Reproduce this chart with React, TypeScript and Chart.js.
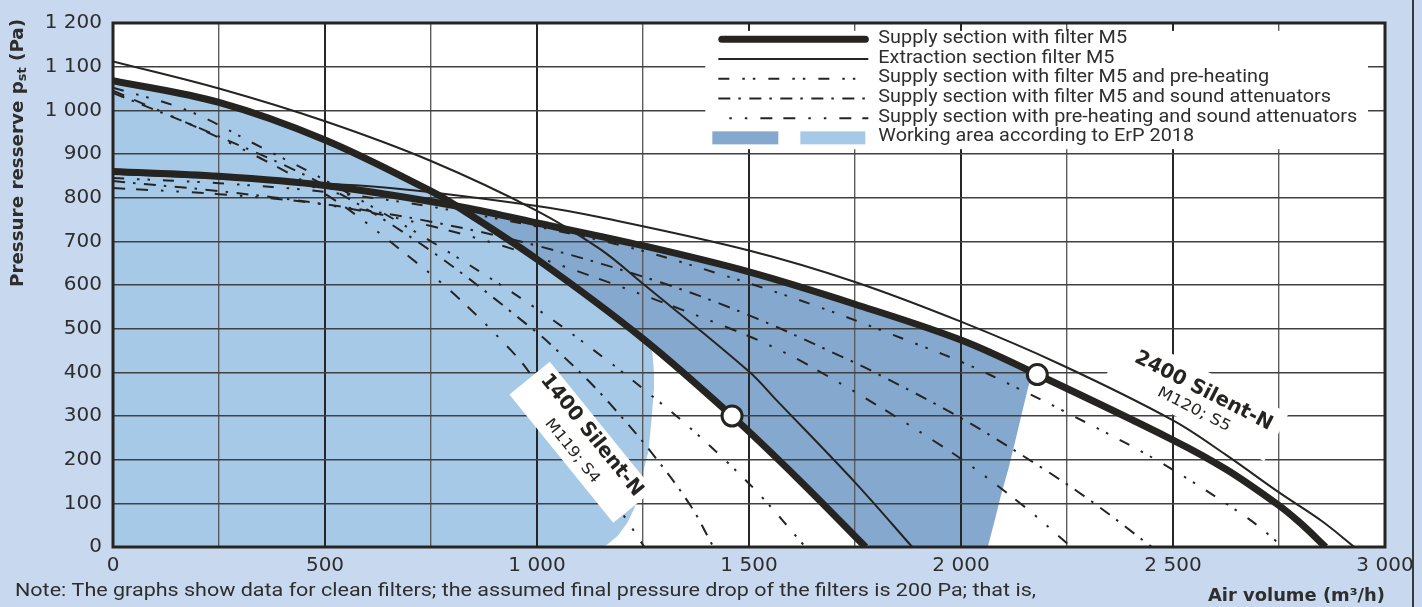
import React, { useEffect, useRef } from 'react';
import { Chart, registerables } from 'chart.js';

Chart.register(...registerables);

// ---------- axes ----------
const X_MIN = 0;
const X_MAX = 3000;
const X_GRID_STEP = 250;
const X_LABEL_STEP = 500;
const Y_MIN = 0;
const Y_MAX = 1200;
const Y_STEP = 100;

// ---------- 1400 Silent-N (M119; S4) : [air volume m3/h, pressure Pa] ----------
const supply1400 = [[0, 1068], [250, 1018], [500, 932], [750, 815], [810, 781], [1000, 659], [1250, 477], [1460, 300], [1620, 152], [1775, 0]];
const extraction1400 = [[0, 1112], [250, 1050], [500, 975], [750, 884], [1000, 770], [1149, 682], [1250, 603], [1500, 402], [1567, 334], [1750, 148], [1885, 0]];
const preheat1400 = [[0, 1052], [175, 1000], [350, 915], [500, 840], [750, 700], [1000, 545], [1169, 425], [1267, 349], [1342, 289], [1437, 205], [1527, 118], [1633, 0]];
const attenuator1400 = [[0, 1040], [250, 940], [500, 828], [750, 678], [1000, 491], [1067, 432], [1122, 380], [1173, 327], [1267, 220], [1362, 95], [1416, 0]];
const preheatAtt1400 = [[0, 1045], [200, 960], [378, 875], [530, 790], [685, 675], [807, 577], [941, 448], [988, 391], [1229, 36], [1253, 0]];

// ---------- 2400 Silent-N (M120; S5) ----------
const supply2400 = [[0, 860], [250, 849], [500, 828], [810, 781], [1000, 742], [1250, 690], [1500, 630], [1750, 556], [2000, 474], [2180, 395], [2500, 245], [2625, 178], [2750, 95], [2800, 55], [2860, 0]];
const extraction2400 = [[0, 855], [465, 834], [677, 820], [1000, 781], [1149, 755], [1500, 679], [1750, 607], [2000, 516], [2235, 418], [2500, 290], [2625, 211], [2750, 125], [2850, 60], [2928, 0]];
const preheat2400 = [[0, 845], [250, 833], [500, 813], [800, 771], [1185, 694], [1428, 626], [1664, 550], [1900, 463], [2015, 418], [2133, 364], [2243, 311], [2463, 198], [2676, 66], [2760, 0]];
const attenuator2400 = [[0, 838], [250, 815], [500, 785], [750, 745], [1000, 690], [1307, 601], [1519, 523], [1723, 434], [1794, 401], [1995, 298], [2188, 183], [2310, 103], [2450, 0]];
const preheatAtt2400 = [[0, 822], [250, 808], [500, 784], [750, 735], [1000, 664], [1464, 497], [1637, 418], [1960, 228], [2141, 99], [2260, 0]];

// rated working points (white circles)
const ratedPoints = [[1460, 300], [2180, 395]];

// right-hand limits of the ErP 2018 working areas
const area1400Edge = [[1258, 471], [1272, 448], [1276, 400], [1276, 365], [1270, 290], [1263, 220], [1251, 175], [1244, 130], [1230, 90], [1213, 55], [1190, 25], [1165, 5], [1150, 0]];
const area2400Edge = [[2170, 400], [2158, 364], [2141, 296], [2128, 243], [2112, 180], [2093, 114], [2078, 55], [2063, 0]];

// ---------- texts ----------
const legendLabels = [
  'Supply section with filter M5',
  'Extraction section filter M5',
  'Supply section with filter M5 and pre-heating',
  'Supply section with filter M5 and sound attenuators',
  'Supply section with pre-heating and sound attenuators',
  'Working area according to ErP 2018',
];
const unitNames = ['1400 Silent-N', '2400 Silent-N'];
const unitSubs = ['M119; S4', 'M120; S5'];
const yTitleMain = 'Pressure resserve p';
const yTitleSub = 'st';
const yTitleEnd = ' (Pa)';
const xTitle = 'Air volume (m³/h)';
const noteText = 'Note: The graphs show data for clean filters; the assumed final pressure drop of the filters is 200 Pa; that is,';

// ---------- styles ----------
const INK = '#262421';
const TEXT = '#2e2e2e';
const BG = '#c8d9ef';
const AREA_2400 = '#85a8cf';
const AREA_1400 = '#a7c9e8';
const GRID_MAJOR = '#262626';
const GRID_MINOR = '#5c5c5c';
const GRID_H = '#404040';
const DASH_PREHEAT = [11, 13, 2.5, 8, 2.5, 13];
const DASH_ATT = [12, 8, 2.5, 8.5];
const DASH_BOTH = [12, 11, 12, 13, 2.5, 13, 2.5, 13];
const TEXT_FAMILY = 'Roboto, "Open Sans", sans-serif';
const BOLD_FAMILY = '"DejaVu Sans", sans-serif';

// layout of annotations (data coordinates)
const legendBox = { x0: 1397, x1: 2960, y0: 911, y1: 1182 };
const unitBoxes = [
  { at: [1105, 240], angle: 51, w: 165, h: 52, along: 1, nameOff: -12, subOff: 13, nameW: 151, subW: 78, nameSize: 20, subSize: 15 },
  { at: [2555, 345], angle: 27, w: 180, h: 54, along: 4, nameOff: -8, subOff: 13, nameW: 152, subW: 80, nameSize: 20, subSize: 15 },
];

const fmt = (v: number) =>
  v >= 1000 ? `${Math.floor(v / 1000)} ${String(v % 1000).padStart(3, '0')}` : `${v}`;

const toPts = (a: number[][]) => a.map(([x, y]) => ({ x, y }));

const curve = (label: string, data: number[][], width: number, dash: number[], order: number) => ({
  label,
  data: toPts(data),
  borderColor: INK,
  backgroundColor: INK,
  borderWidth: width,
  borderDash: dash,
  borderCapStyle: 'butt',
  borderJoinStyle: 'round',
  pointRadius: 0,
  pointHoverRadius: 0,
  fill: false,
  tension: 0.35,
  order,
});

function fitText(ctx: CanvasRenderingContext2D, text: string, x: number, y: number, width: number, font: string, align: CanvasTextAlign = 'left') {
  ctx.font = font;
  const w = ctx.measureText(text).width || 1;
  ctx.save();
  ctx.translate(x, y);
  ctx.scale(width / w, 1);
  ctx.textAlign = align;
  ctx.fillText(text, 0, 0);
  ctx.restore();
}

const overlay = {
  id: 'overlay',
  beforeDraw(chart: any) {
    const { ctx, chartArea: a, scales } = chart;
    const xs = scales.x;
    const ys = scales.y;
    ctx.save();
    ctx.fillStyle = '#ffffff';
    ctx.fillRect(a.left, a.top, a.right - a.left, a.bottom - a.top);
    const poly = (arr: number[][], color: string) => {
      ctx.beginPath();
      arr.forEach(([vx, vy], i) => {
        const px = xs.getPixelForValue(vx);
        const py = ys.getPixelForValue(vy);
        if (i === 0) ctx.moveTo(px, py);
        else ctx.lineTo(px, py);
      });
      ctx.closePath();
      ctx.fillStyle = color;
      ctx.fill();
    };
    // 2400 working area: between the two supply curves, limited on the right
    const top2400 = supply2400.filter((p) => p[0] >= 810 && p[0] < 2165);
    const low1400 = supply1400.filter((p) => p[0] >= 810).slice().reverse();
    poly([...top2400, ...area2400Edge, ...low1400], AREA_2400);
    // 1400 working area: below the 1400 supply curve
    const top1400 = supply1400.filter((p) => p[0] <= 1250);
    poly([[0, 0], ...top1400, ...area1400Edge], AREA_1400);
    ctx.restore();
  },
  afterDraw(chart: any) {
    const { ctx, chartArea: a, scales } = chart;
    const xs = scales.x;
    const ys = scales.y;
    ctx.save();

    // unit labels
    unitBoxes.forEach((b, i) => {
      const cx = xs.getPixelForValue(b.at[0]);
      const cy = ys.getPixelForValue(b.at[1]);
      ctx.save();
      ctx.translate(cx, cy);
      ctx.rotate((b.angle * Math.PI) / 180);
      ctx.fillStyle = '#ffffff';
      ctx.fillRect(-b.w / 2, -b.h / 2, b.w, b.h);
      ctx.fillStyle = INK;
      ctx.textBaseline = 'middle';
      fitText(ctx, unitNames[i], b.along, b.nameOff, b.nameW, `bold ${b.nameSize}px ${BOLD_FAMILY}`, 'center');
      fitText(ctx, unitSubs[i], b.along, b.subOff, b.subW, `${b.subSize}px ${BOLD_FAMILY}`, 'center');
      ctx.restore();
    });

    // legend
    const L = xs.getPixelForValue(legendBox.x0);
    const R = xs.getPixelForValue(legendBox.x1);
    const T = ys.getPixelForValue(legendBox.y1);
    const B = ys.getPixelForValue(legendBox.y0);
    ctx.fillStyle = '#ffffff';
    ctx.fillRect(L, T, R - L, B - T);
    const rowY = (i: number) => T + 8.5 + i * 19.7;
    const styles = [
      { w: 7, dash: [] as number[], cap: 'round' },
      { w: 2, dash: [] as number[], cap: 'butt' },
      { w: 2, dash: DASH_PREHEAT, cap: 'butt' },
      { w: 2, dash: DASH_ATT, cap: 'butt' },
      { w: 2, dash: DASH_BOTH, cap: 'butt' },
    ];
    ctx.strokeStyle = INK;
    styles.forEach((s, i) => {
      const y = rowY(i);
      ctx.beginPath();
      ctx.setLineDash(s.dash);
      ctx.lineDashOffset = i === 4 ? 37 : 0;
      ctx.lineWidth = s.w;
      ctx.lineCap = s.cap as CanvasLineCap;
      if (s.cap === 'round') {
        ctx.moveTo(L + 16.5, y);
        ctx.lineTo(L + 160, y);
      } else {
        ctx.moveTo(L + 13, y);
        ctx.lineTo(L + 163, y);
      }
      ctx.stroke();
    });
    ctx.setLineDash([]);
    ctx.lineCap = 'butt';
    const yb = rowY(5);
    ctx.fillStyle = AREA_2400;
    ctx.fillRect(L + 7, yb - 6.5, 66, 13);
    ctx.fillStyle = AREA_1400;
    ctx.fillRect(L + 95, yb - 6.5, 65, 13);
    const legendFont = `18px ${TEXT_FAMILY}`;
    ctx.font = legendFont;
    const sxL = 479 / ctx.measureText(legendLabels[4]).width;
    ctx.fillStyle = TEXT;
    ctx.textBaseline = 'middle';
    legendLabels.forEach((t, i) => {
      ctx.save();
      ctx.translate(L + 173, rowY(i) - 1);
      ctx.scale(sxL, 1);
      ctx.textAlign = 'left';
      ctx.fillText(t, 0, 0);
      ctx.restore();
    });

    // frame
    ctx.strokeStyle = INK;
    ctx.lineWidth = 3;
    ctx.strokeRect(a.left, a.top, a.right - a.left, a.bottom - a.top);

    // y title with subscript
    ctx.save();
    ctx.translate(19, 287);
    ctx.rotate(-Math.PI / 2);
    ctx.fillStyle = TEXT;
    ctx.textBaseline = 'middle';
    const big = `bold 17px ${BOLD_FAMILY}`;
    const small = `bold 12px ${BOLD_FAMILY}`;
    ctx.font = big;
    const w1 = ctx.measureText(yTitleMain).width;
    const w3 = ctx.measureText(yTitleEnd).width;
    ctx.font = small;
    const w2 = ctx.measureText(yTitleSub).width;
    ctx.scale(268 / (w1 + w2 + w3), 1);
    ctx.textAlign = 'left';
    ctx.font = big;
    ctx.fillText(yTitleMain, 0, 0);
    ctx.font = small;
    ctx.fillText(yTitleSub, w1, 4);
    ctx.font = big;
    ctx.fillText(yTitleEnd, w1 + w2, 0);
    ctx.restore();

    // x title
    ctx.fillStyle = TEXT;
    ctx.textBaseline = 'alphabetic';
    fitText(ctx, xTitle, a.right, 601, 177, `bold 17px ${BOLD_FAMILY}`, 'right');

    // note
    fitText(ctx, noteText, 15, 596, 1021, `18px ${TEXT_FAMILY}`, 'left');

    // page edge
    ctx.fillStyle = '#3a3a3a';
    ctx.fillRect(1412, 0, 2, 607);
    ctx.restore();
  },
};

export default function App() {
  const ref = useRef<HTMLCanvasElement>(null);
  useEffect(() => {
    const canvas = ref.current;
    if (!canvas) return;
    const datasets: any[] = [
      {
        label: 'rated',
        data: toPts(ratedPoints),
        showLine: false,
        pointRadius: 10,
        pointHoverRadius: 10,
        pointBorderWidth: 3,
        pointBackgroundColor: '#ffffff',
        pointBorderColor: INK,
        order: 0,
      },
      curve('Supply 1400', supply1400, 7, [], 1),
      curve('Supply 2400', supply2400, 7, [], 1),
      curve('Extraction 1400', extraction1400, 2, [], 2),
      curve('Extraction 2400', extraction2400, 2, [], 2),
      curve('Pre-heating 1400', preheat1400, 2, DASH_PREHEAT, 3),
      curve('Pre-heating 2400', preheat2400, 2, DASH_PREHEAT, 3),
      curve('Attenuators 1400', attenuator1400, 2, DASH_ATT, 3),
      curve('Attenuators 2400', attenuator2400, 2, DASH_ATT, 3),
      curve('Pre-heating + attenuators 1400', preheatAtt1400, 2, DASH_BOTH, 3),
      curve('Pre-heating + attenuators 2400', preheatAtt2400, 2, DASH_BOTH, 3),
    ];
    const chart = new Chart(canvas, {
      type: 'line',
      data: { datasets },
      plugins: [overlay as any],
      options: {
        responsive: false,
        animation: false,
        devicePixelRatio: 1,
        events: [],
        layout: { padding: { left: 0, top: 19, right: 37, bottom: 0 } },
        plugins: {
          legend: { display: false },
          tooltip: { enabled: false },
          title: { display: false },
        },
        scales: {
          x: {
            type: 'linear',
            min: X_MIN,
            max: X_MAX,
            afterFit: (s: any) => {
              s.height = 60;
            },
            border: { display: false },
            grid: {
              drawTicks: false,
              color: (c: any) => (c.tick && c.tick.value % X_LABEL_STEP === 0 ? GRID_MAJOR : GRID_MINOR),
              lineWidth: (c: any) => (c.tick && c.tick.value % X_LABEL_STEP === 0 ? 2 : 1.4),
            },
            ticks: {
              stepSize: X_GRID_STEP,
              autoSkip: false,
              maxRotation: 0,
              minRotation: 0,
              padding: 7,
              color: TEXT,
              font: { family: 'DejaVu Sans', size: 20 },
              callback: (v: any) => (Number(v) % X_LABEL_STEP === 0 ? fmt(Number(v)) : ''),
            },
          },
          y: {
            type: 'linear',
            min: Y_MIN,
            max: Y_MAX,
            afterFit: (s: any) => {
              s.width = 113;
            },
            border: { display: false },
            grid: { drawTicks: false, color: GRID_H, lineWidth: 1.4 },
            ticks: {
              stepSize: Y_STEP,
              padding: 11,
              color: TEXT,
              font: { family: 'DejaVu Sans', size: 20 },
              callback: (v: any) => fmt(Number(v)),
            },
          },
        },
      } as any,
    });
    return () => chart.destroy();
  }, []);

  return (
    <div style={{ position: 'fixed', left: 0, top: 0, width: 1422, height: 607, background: BG }}>
      <canvas ref={ref} width={1422} height={607} style={{ display: 'block', width: 1422, height: 607 }} />
    </div>
  );
}
